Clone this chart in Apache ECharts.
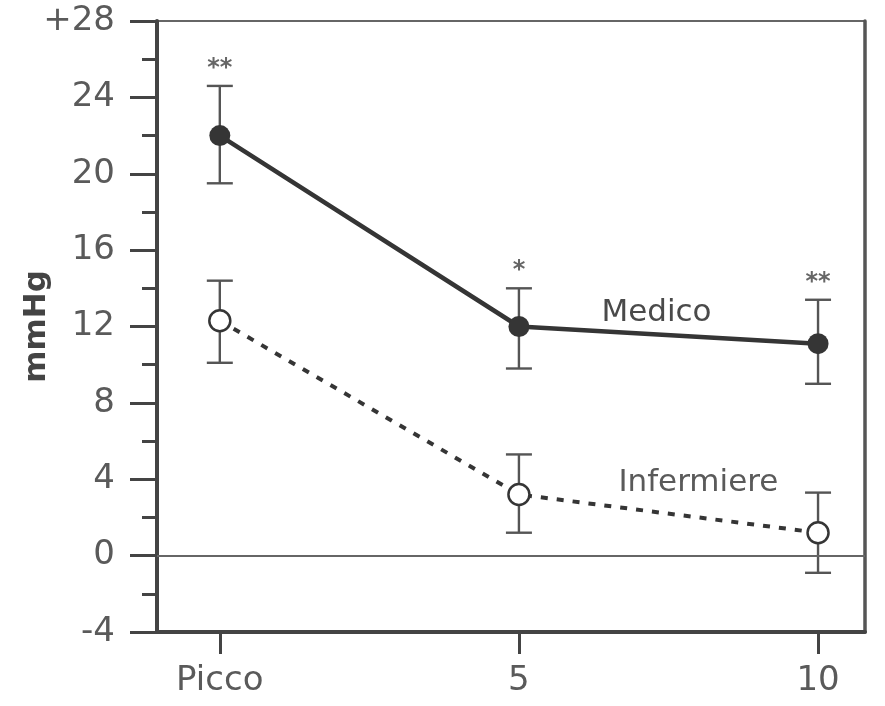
<!DOCTYPE html>
<html>
<head>
<meta charset="utf-8">
<script src="https://cdn.jsdelivr.net/npm/echarts@6/dist/echarts.min.js"></script>
<style>html,body{margin:0;padding:0;background:#fff}#c{width:885px;height:706px}</style>
</head>
<body>
<div id="c"></div>
<script>
// Time points (x positions 0, 1, 2 on a value axis)
var categories = ['Picco', '5', '10'];

// Medico: mean and error range
var medicoMean = [22.0, 12.0, 11.1];
var medicoLow  = [19.5, 9.8, 9.0];
var medicoHigh = [24.6, 14.0, 13.4];

// Infermiere: mean and error range
var infMean = [12.3, 3.2, 1.2];
var infLow  = [10.1, 1.2, -0.9];
var infHigh = [14.4, 5.3, 3.3];

// significance marks above each time point
var medicoStars = ['**', '*', '**'];
var medicoStarY = [25.5, 14.9, 14.3];

var ink = '#353535';
var font = 'DejaVu Sans';
var chart = echarts.init(document.getElementById('c'));

function pts(vals) { return vals.map(function (v, i) { return [i, v]; }); }
function bars(low, high) { return low.map(function (l, i) { return [i, l, high[i]]; }); }

function errorSeries(low, high) {
  return {
    type: 'custom',
    data: bars(low, high),
    z: 3,
    renderItem: function (params, api) {
      var x = api.value(0);
      var lo = api.coord([x, api.value(1)]);
      var hi = api.coord([x, api.value(2)]);
      var w = 13;
      var st = { stroke: '#555', lineWidth: 2.4 };
      return {
        type: 'group',
        children: [
          { type: 'line', shape: { x1: lo[0], y1: lo[1], x2: hi[0], y2: hi[1] }, style: st },
          { type: 'line', shape: { x1: lo[0] - w, y1: lo[1], x2: lo[0] + w, y2: lo[1] }, style: st },
          { type: 'line', shape: { x1: hi[0] - w, y1: hi[1], x2: hi[0] + w, y2: hi[1] }, style: st }
        ]
      };
    }
  };
}

chart.setOption({
  animation: false,
  backgroundColor: '#fff',
  grid: { left: 157, right: 20, top: 21, bottom: 74, outerBoundsMode: 'none', containLabel: false,
    show: true, borderColor: '#666', borderWidth: 2 },
  xAxis: {
    type: 'value', min: -0.21, max: 2.157, interval: 1,
    splitLine: { show: false },
    axisLine: { show: true, onZero: false, lineStyle: { color: '#444', width: 4 } },
    axisTick: { show: true, length: 22, lineStyle: { color: '#444', width: 3 },
      customValues: [0, 1, 2] },
    axisLabel: { customValues: [0, 1, 2], margin: 32, color: '#5a5a5a', fontSize: 34,
      fontFamily: font, formatter: function (v) { return categories[Math.round(v)]; } }
  },
  yAxis: [{
    type: 'value', min: -4, max: 28, interval: 4,
    name: 'mmHg', nameLocation: 'middle', nameGap: 105, nameRotate: 90, nameMoveOverlap: false,
    nameTextStyle: { fontSize: 31, fontWeight: 'bold', color: '#444', fontFamily: font },
    splitLine: { show: false },
    axisLine: { show: true, onZero: false, lineStyle: { color: '#444', width: 4 } },
    axisTick: { show: true, inside: false, length: 27, lineStyle: { color: '#444', width: 3 } },
    minorTick: { show: true, splitNumber: 2, length: 15, lineStyle: { color: '#444', width: 3 } },
    axisLabel: { margin: 42, color: '#5a5a5a', fontSize: 34, fontFamily: font,
      formatter: function (v) { return v === 28 ? '+28' : String(v); } }
  }, {
    // right frame edge
    type: 'value', position: 'right', min: -4, max: 28, interval: 4,
    splitLine: { show: false }, axisTick: { show: false }, axisLabel: { show: false },
    axisLine: { show: true, onZero: false, lineStyle: { color: '#555', width: 3.5 } }
  }],
  series: [
    errorSeries(medicoLow, medicoHigh),
    errorSeries(infLow, infHigh),
    {
      type: 'line', data: pts(medicoMean), z: 4,
      symbol: 'circle', symbolSize: 21,
      lineStyle: { color: ink, width: 4.5 },
      itemStyle: { color: ink },
      markLine: {
        silent: true, symbol: 'none', label: { show: false },
        lineStyle: { color: '#666', width: 1.8, type: 'solid' },
        data: [{ yAxis: 0 }]
      },
      markPoint: {
        symbol: 'circle', symbolSize: 1, itemStyle: { color: 'transparent' },
        label: { show: true, position: 'inside', color: '#4a4a4a', fontSize: 31, fontFamily: font },
        data: [
          { coord: [1.46, 12.7], value: 'Medico', label: { formatter: 'Medico' } }
        ].concat(medicoStars.map(function (s, i) {
          return { coord: [i, medicoStarY[i]], label: { formatter: s, fontSize: 24, fontWeight: 'bold', color: '#666' } };
        }))
      }
    },
    {
      type: 'line', data: pts(infMean), z: 4,
      symbol: 'circle', symbolSize: 21,
      lineStyle: { color: ink, width: 4, type: [7, 9] },
      itemStyle: { color: '#fff', borderColor: ink, borderWidth: 2.5 },
      markPoint: {
        symbol: 'circle', symbolSize: 1, itemStyle: { color: 'transparent' },
        label: { show: true, position: 'inside', color: '#5a5a5a', fontSize: 31, fontFamily: font },
        data: [
          { coord: [1.6, 3.8], value: 'Infermiere', label: { formatter: 'Infermiere' } }
        ]
      }
    }
  ]
});
</script>
</body>
</html>
